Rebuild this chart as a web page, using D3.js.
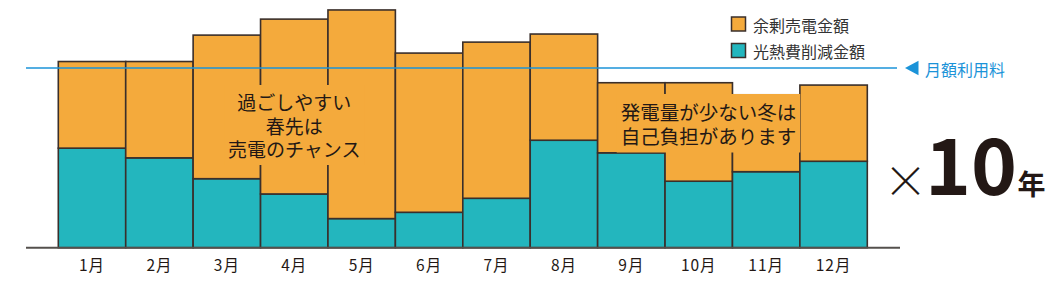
<!DOCTYPE html>
<html><head><meta charset="utf-8">
<script src="https://cdn.jsdelivr.net/npm/d3@7"></script>
<style>
html,body{margin:0;padding:0;background:#fff;}
svg{display:block;font-family:"Noto Sans CJK JP","Noto Sans",sans-serif;}
</style></head>
<body><svg id="c" width="1064" height="282"></svg>
<script>
const months = ["1月","2月","3月","4月","5月","6月","7月","8月","9月","10月","11月","12月"];
const savings = [55.4, 50.0, 38.4, 29.9, 16.2, 19.7, 27.5, 59.8, 52.8, 37.0, 42.3, 48.1];   // 光熱費削減金額
const surplus = [48.2, 53.6, 79.9, 97.3, 116.1, 88.6, 86.9, 59.1, 39.0, 54.8, 42.8, 42.4]; // 余剰売電金額
const monthlyFee = 100; // 月額利用料
const seriesNames = ["余剰売電金額","光熱費削減金額"];
const springNote = ["過ごしやすい","春先は","売電のチャンス"];
const winterNote = ["発電量が少ない冬は","自己負担があります"];

const C = {orange:"#F4AA3C", teal:"#23B6BE", stroke:"#3a2f2b", blue:"#1B93D8", text:"#231815"};
const svg = d3.select("#c");
const x = d3.scaleBand().domain(months).range([58.3, 867.3]).padding(0);
const y = d3.scaleLinear().domain([0, 100]).range([247.7, 68]);

const g = svg.append("g");
months.forEach((m,i)=>{
  g.append("rect").attr("x", x(m)).attr("width", x.bandwidth())
    .attr("y", y(savings[i])).attr("height", y(0)-y(savings[i]))
    .attr("fill", C.teal).attr("stroke", C.stroke).attr("stroke-width", 1.6);
  g.append("rect").attr("x", x(m)).attr("width", x.bandwidth())
    .attr("y", y(savings[i]+surplus[i])).attr("height", y(savings[i])-y(savings[i]+surplus[i]))
    .attr("fill", C.orange).attr("stroke", C.stroke).attr("stroke-width", 1.6);
});

// annotations with orange backing
function note(lines, cx, cy0, lh, fs){
  const ng = svg.append("g");
  const bg = ng.append("rect").attr("fill", C.orange);
  const t = ng.append("text").attr("text-anchor","middle").attr("fill", C.text)
    .attr("font-size", fs);
  lines.forEach((l,i)=> t.append("tspan").attr("x", cx).attr("y", cy0 + i*lh)
      .attr("dominant-baseline","central").text(l));
  const b = t.node().getBBox();
  bg.attr("x", b.x-4).attr("y", b.y-3).attr("width", b.width+8).attr("height", b.height+6);
}
note(springNote, x("4月")+x.bandwidth()/2, 101.5, 23.5, 19);
note(winterNote, x("11月")-24, 111.5, 23.5, 19.5);

// monthly fee line
svg.append("line").attr("x1", 26).attr("x2", 897).attr("y1", y(monthlyFee)).attr("y2", y(monthlyFee))
  .attr("stroke", C.blue).attr("stroke-width", 1.6);
const fy = y(monthlyFee);
svg.append("path").attr("d", d3.line()([[905, fy],[918.5, fy-7.2],[918.5, fy+7.2]]) + "Z").attr("fill", C.blue);
svg.append("text").attr("x", 925).attr("y", fy+1).attr("dominant-baseline","central")
  .attr("font-size", 16).attr("fill", C.blue).text("月額利用料");

// baseline axis
svg.append("line").attr("x1", 26).attr("x2", 900).attr("y1", y(0)).attr("y2", y(0))
  .attr("stroke", "#54504d").attr("stroke-width", 2);

// month labels
const ax = svg.append("g").attr("transform", `translate(0,${y(0)})`)
  .call(d3.axisBottom(x).tickSize(0).tickPadding(0));
ax.select(".domain").remove();
ax.selectAll("text").attr("y", 16).attr("dy", null).attr("dominant-baseline","central")
  .attr("font-size", 15.5).attr("letter-spacing", 1).attr("fill", C.text)
  .attr("font-family", '"Noto Sans CJK JP",sans-serif');

// legend
const lg = svg.append("g");
[[seriesNames[0], C.orange],[seriesNames[1], C.teal]].forEach((d,i)=>{
  lg.append("rect").attr("x", 731.5).attr("y", 17 + i*26.5).attr("width", 14).attr("height", 14)
    .attr("fill", d[1]).attr("stroke", C.stroke).attr("stroke-width", 1.5);
  lg.append("text").attr("x", 753).attr("y", 24.5 + i*26.5).attr("dominant-baseline","central")
    .attr("font-size", 16).attr("fill", "#333").text(d[0]);
});

// ×10年
svg.append("text").attr("x", 905.5).attr("y", 179).attr("text-anchor","middle").attr("dominant-baseline","central")
  .attr("font-size", 44).attr("font-weight", 300).attr("fill", C.text).text("×");
svg.append("text").attr("x", 971).attr("y", 195).attr("text-anchor","middle")
  .attr("font-size", 78).attr("font-weight", 700).attr("fill", C.text)
  .attr("font-family", '"Noto Sans CJK JP",sans-serif').text("10");
svg.append("text").attr("x", 1031.5).attr("y", 195).attr("text-anchor","middle")
  .attr("font-size", 28).attr("font-weight", 700).attr("fill", C.text).text("年");
</script></body></html>
